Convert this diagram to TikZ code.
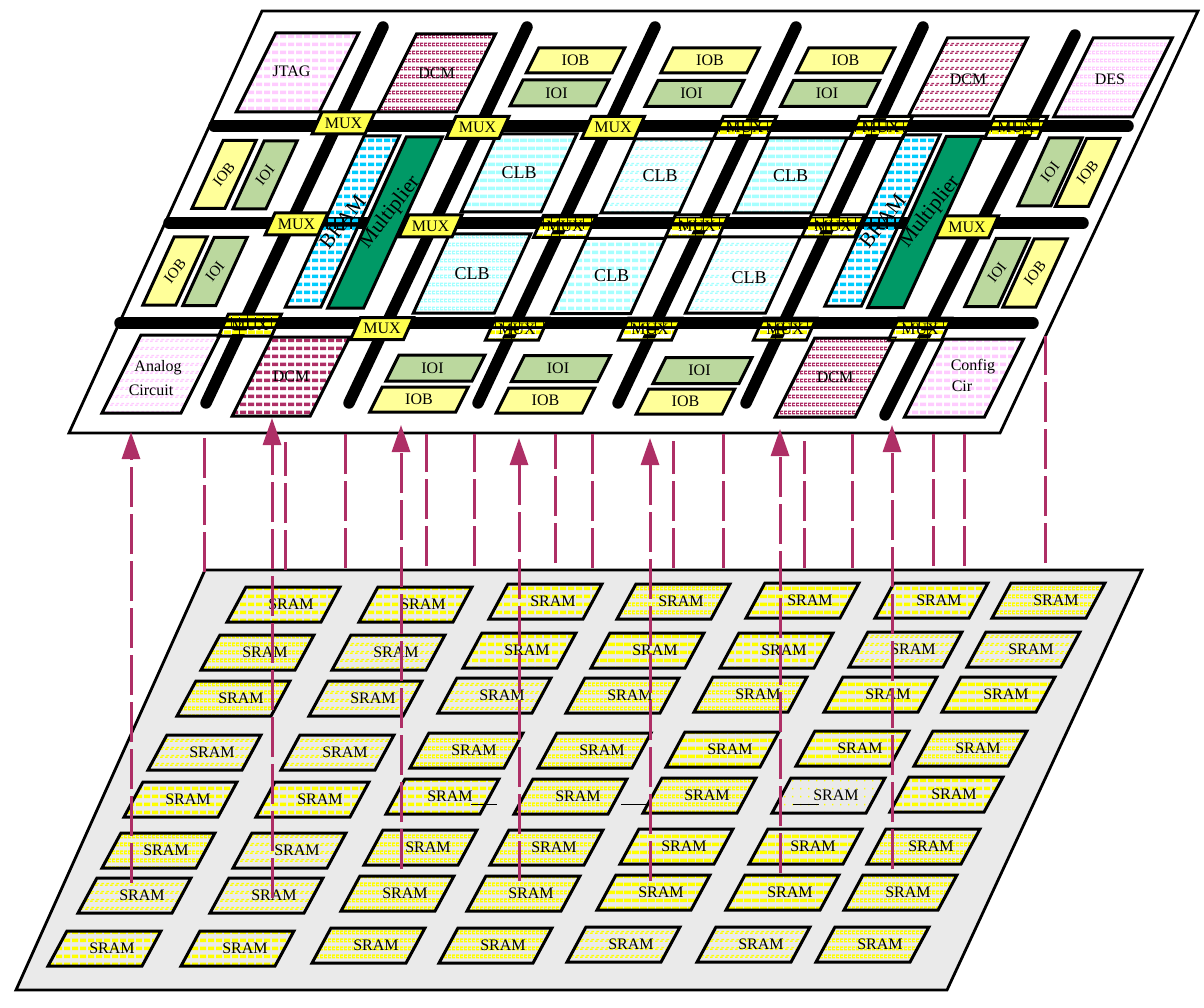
\documentclass[tikz,border=0pt]{standalone}
\usepackage{fontspec}
\setmainfont{Liberation Serif}
\usetikzlibrary{arrows.meta,patterns}

% stripe fills, from heavy to faint
\pgfdeclarepatternformonly{strS}{\pgfqpoint{0pt}{0pt}}{\pgfqpoint{8pt}{8pt}}{\pgfqpoint{8pt}{8pt}}{%
  \pgfpathrectangle{\pgfqpoint{0pt}{2pt}}{\pgfqpoint{8pt}{4pt}}\pgfusepath{fill}}
\pgfdeclarepatternformonly{strD}{\pgfqpoint{0pt}{0pt}}{\pgfqpoint{8pt}{8pt}}{\pgfqpoint{8pt}{8pt}}{%
  \pgfpathrectangle{\pgfqpoint{0pt}{2pt}}{\pgfqpoint{6.8pt}{4pt}}\pgfusepath{fill}}
\pgfdeclarepatternformonly{strM}{\pgfqpoint{0pt}{0pt}}{\pgfqpoint{4pt}{8pt}}{\pgfqpoint{4pt}{8pt}}{%
  \pgfpathrectangle{\pgfqpoint{0pt}{1.8pt}}{\pgfqpoint{4pt}{1.5pt}}
  \pgfpathrectangle{\pgfqpoint{0pt}{4.6pt}}{\pgfqpoint{4pt}{1.5pt}}
  \pgfpathrectangle{\pgfqpoint{0pt}{3pt}}{\pgfqpoint{1.5pt}{1.8pt}}\pgfusepath{fill}}
\pgfdeclarepatternformonly{strF}{\pgfqpoint{0pt}{0pt}}{\pgfqpoint{5pt}{8pt}}{\pgfqpoint{5pt}{8pt}}{%
  \pgfpathrectangle{\pgfqpoint{0pt}{2.3pt}}{\pgfqpoint{3.2pt}{1.4pt}}
  \pgfpathrectangle{\pgfqpoint{1.6pt}{4.3pt}}{\pgfqpoint{3.2pt}{1.4pt}}\pgfusepath{fill}}
\pgfdeclarepatternformonly{strX}{\pgfqpoint{0pt}{0pt}}{\pgfqpoint{8pt}{8pt}}{\pgfqpoint{8pt}{8pt}}{%
  \pgfpathrectangle{\pgfqpoint{0pt}{3pt}}{\pgfqpoint{1.5pt}{1.5pt}}\pgfusepath{fill}}

\definecolor{boardgray}{HTML}{EAEAEA}
\definecolor{muxyellow}{HTML}{FFFF4D}
\definecolor{iobyellow}{HTML}{FFFF99}
\definecolor{ioigreen}{HTML}{BBD89E}
\definecolor{multgreen}{HTML}{009966}
\definecolor{bramblue}{HTML}{00CCFF}
\definecolor{clbcyan}{HTML}{A6FFFF}
\definecolor{dcmred}{HTML}{AE2F66}
\definecolor{cfgpink}{HTML}{FFCCFF}

% #1 fill, #2 name, #3 #4 centre, #5 width, #6 height, #7 text options, #8 text
\newcommand{\blk}[8]{%
  \path[block,#1] ({#3-#5/2-\skw*#6/2},{#4+#6/2}) -- ++(#5,0) -- ++({\skw*#6},{-#6}) -- ++(-#5,0) -- cycle;
  \node[lab,#7] (#2) at ({#3},{#4}) {#8};
}
\def\skw{0.5}

\begin{document}
\begin{tikzpicture}[
    x=1pt, y=-1pt,
    board/.style={draw=black, line width=2.8pt, line join=miter},
    bus/.style={draw=black, line width=11.5pt, line cap=round},
    block/.style={draw=black, line width=3pt, line join=miter},
    lab/.style={inner sep=0pt, font=\fontsize{16}{16}\selectfont},
    side/.style={lab, rotate=52, font=\fontsize{15}{15}\selectfont},
    big/.style={lab, rotate=52, font=\fontsize{21}{21}\selectfont},
    clbtxt/.style={lab, font=\fontsize{18}{18}\selectfont},
    mux/.style={fill=muxyellow},
    muxstr/.style={pattern=strS, pattern color=yellow},
    iob/.style={fill=iobyellow},
    ioi/.style={fill=ioigreen},
    mult/.style={fill=multgreen},
    bram/.style={pattern=strD, pattern color=bramblue},
    clb/.style={pattern=#1, pattern color=clbcyan},
    dcm/.style={pattern=#1, pattern color=dcmred},
    cfg/.style={pattern=#1, pattern color=cfgpink},
    sram/.style={pattern=#1, pattern color=yellow},
    link/.style={draw=dcmred, line width=3pt, dash pattern=on 40pt off 7pt},
    linkup/.style={link, -{Triangle[width=18pt,length=27pt]}},
    stub/.style={draw=black, line width=1pt}
]
\useasboundingbox (0,0) rectangle (1204,1008);

% Boards
\path[board, fill=white] (262,11) -- (1198,11) -- (1000,433) -- (69,433) -- cycle;
\path[board, fill=boardgray] (205,570) -- (1142,570) -- (947,990) -- (16,990) -- cycle;

% Routing channels
\foreach \xa/\ya/\xb/\yb in {383/27/206/403, 527/27/349/403, 655/27/478/403, 796/27/618/403,
    923/27/746/403, 1075/35/885/415, 214/126/1128/126, 169/223/1083/223, 120/323/1033/323}
  \draw[bus] (\xa,\ya) -- (\xb,\yb);

% Corner blocks
\blk{cfg=strD}{jtag}{297.5}{72.5}{83}{79}{shift={(-6,-1)}}{JTAG}
\blk{dcm=strM}{dcma}{436.5}{73}{79}{78}{}{DCM}
\blk{dcm=strF}{dcmb}{968}{77}{80}{78}{shift={(0,2)}}{DCM}
\blk{cfg=strM}{des}{1113}{77.5}{79}{79}{shift={(-3,2)}}{DES}
\blk{cfg=strF}{analog}{161}{374}{79}{78}{shift={(-3,-6)}}{Analog}
\node[lab] (circuit) at (151,390) {Circuit};
\blk{dcm=strD}{dcmc}{291}{376.5}{78}{79}{}{DCM}
\blk{dcm=strM}{dcmd}{835}{377.5}{80}{79}{}{DCM}
\blk{cfg=strD}{config}{964}{378}{80}{78}{shift={(9,-11)}}{Config}
\node[lab] (cir) at (962,386) {Cir};

% IOB and IOI, top and bottom
\foreach \i/\x/\y in {a/575.5/60.5, b/710/60.5, c/845.5/60.5, d/419/399.5, e/545.5/400.5, f/685.5/401.5}
  {\blk{iob}{iob\i}{\x}{\y}{86}{25}{}{IOB}}
\foreach \i/\x/\y in {a/559.5/93, b/694.5/93.5, c/830/93.5, d/435.5/368, e/561/368.5, f/702.5/370.5}
  {\blk{ioi}{ioi\i}{\x}{\y}{86}{26}{shift={(-3,0)}}{IOI}}

% IOB and IOI, left and right
\def\skw{0.46}
\foreach \i/\x/\y in {g/224/174.5, h/175/271, i/1087.5/172.5, j/1035/273}
  {\blk{iob}{iob\i}{\x}{\y}{33}{68}{side}{IOB}}
\foreach \i/\x/\y in {g/265/175, h/215/271.5, i/1050/172, j/997/272.5}
  {\blk{ioi}{ioi\i}{\x}{\y}{33}{68}{side}{IOI}}

% BRAM and Multiplier
\blk{bram}{brama}{342.5}{221.5}{35.5}{171}{big}{BRAM}
\blk{mult}{multa}{385}{222.5}{36}{171}{shift={(5,-10)}, big}{Multiplier}
\blk{bram}{bramb}{882.5}{220.5}{36.5}{171}{big}{BRAM}
\blk{mult}{multb}{925}{222}{36}{171}{shift={(5,-10)}, big}{Multiplier}

% CLB
\blk{clb=strS}{clba}{519}{173}{80}{78}{clbtxt}{CLB}
\blk{clb=strF}{clbb}{657}{176}{78}{74}{clbtxt, shift={(3,0)}}{CLB}
\blk{clb=strS}{clbc}{790.5}{175.5}{79}{75}{clbtxt}{CLB}
\blk{clb=strM}{clbd}{472}{273.5}{81}{79}{clbtxt}{CLB}
\blk{clb=strD}{clbe}{608.5}{276}{79}{75}{clbtxt, shift={(3,0)}}{CLB}
\blk{clb=strF}{clbf}{743}{275}{80}{76}{clbtxt, shift={(6,3)}}{CLB}

% MUX
\def\skw{0.45}
\foreach \x/\y [count=\i] in {343.5/123, 477.5/127.5, 613/127.5, 296.5/224, 430.5/226, 967/227, 382/328.5}
  {\blk{mux}{mux\i}{\x}{\y}{53}{22}{}{MUX}}
\foreach \x/\y [count=\i] in {745/127.5, 881/127.5, 1016/127.5, 565/226.5, 697/226, 833/226,
    250/325, 517/329, 650/329, 785/329, 920/329}
  {\blk{muxstr}{muxs\i}{\x}{\y}{53}{22}{}{MUX}}

% SRAM
\def\skw{0.54}
\foreach \x/\y/\tp [count=\i] in {
    291/604/strD, 423/604/strD, 553/601/strD, 681/601/strM, 810/600/strS, 939/600/strD, 1056/600/strM,
    265/652/strM, 396/652/strF, 527/650/strD, 655/650/strS, 784/650/strD, 913/649/strF, 1031/649/strF,
    241/698/strM, 373/698/strF, 502/695/strF, 630/695/strM, 758/694/strM, 888/694/strS, 1006/694/strS,
    212/752/strF, 345/752/strF, 474/750/strM, 602/750/strM, 730/749/strS, 860/748/strS, 978/748/strM,
    188/799/strD, 320/799/strD, 450/796/strD, 578/796/strM, 707/795/strM, 836/795/strX, 954/794/strD,
    166/850/strM, 297/850/strF, 428/847/strM, 554/847/strM, 684/846/strS, 813/846/strS, 931/846/strM,
    142/895/strF, 274/895/strF, 405/893/strM, 531/893/strM, 661/892/strS, 790/892/strS, 908/892/strM,
    112/948/strD, 245/948/strD, 376/945/strM, 503/945/strM, 631/944/strF, 761/944/strF, 880/944/strM}
  {\blk{sram=\tp}{sram\i}{\x-7.5}{\y+0.5}{94}{35}{shift={(7.5,-0.5)}}{SRAM}}

% Loose wire ends in the fifth row
\foreach \xa/\xb in {471/497, 621/647, 793/819}
  \draw[stub] (\xa,804) -- (\xb,804);

% Config links
\foreach \x/\ya/\yb in {204/572/434, 285/570/442, 345/568/434, 426/566/434, 474/566/434, 555/563/434, 592/568/434,
    673/568/441, 723/568/434, 804/568/441, 852/568/434, 933/566/434, 964/566/434, 1045/563/336} {
  \coordinate (from\x) at (\x,\ya);
  \coordinate (to\x) at (\x,\yb);
  \draw[link] (from\x) -- (to\x);
}
\foreach \x/\ya/\yb in {131/883/432, 272/898/418, 401/869/425, 519/881/438, 650/881/438, 780/873/429, 892/869/425} {
  \coordinate (from\x) at (\x,\ya);
  \coordinate (to\x) at (\x,\yb);
  \draw[linkup] (from\x) -- (to\x);
}

\end{tikzpicture}
\end{document}
